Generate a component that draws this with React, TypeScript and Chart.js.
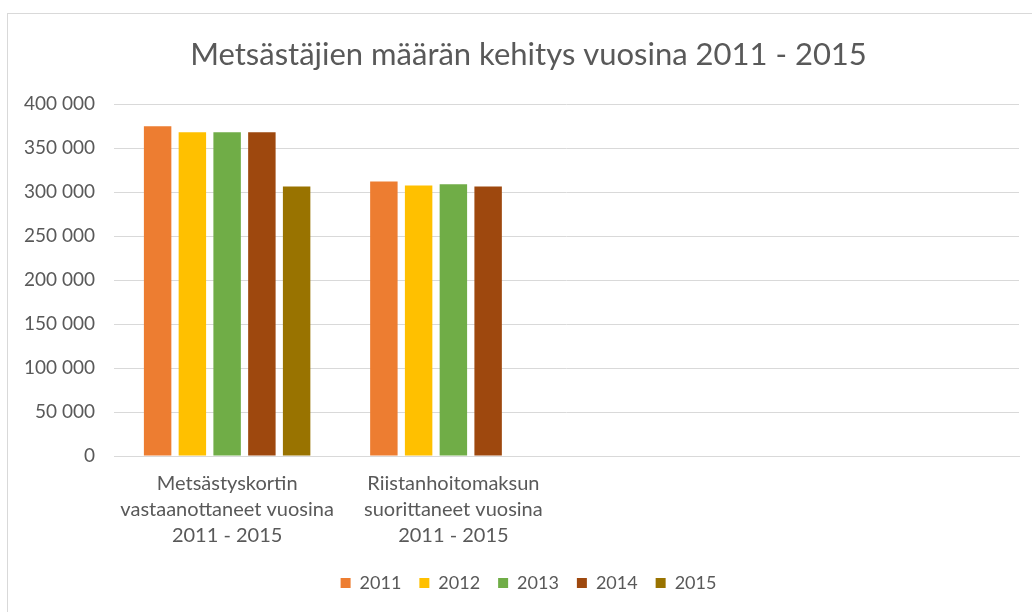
import React, { useEffect, useRef } from "react";
import { Chart, registerables } from "chart.js";

Chart.register(...registerables);

const categories: string[][] = [
  ["Metsästyskortin", "vastaanottaneet vuosina", "2011 - 2015"],
  ["Riistanhoitomaksun", "suorittaneet vuosina", "2011 - 2015"],
  [""],
  [""],
];
const seriesNames = ["2011", "2012", "2013", "2014", "2015"];
const values2011 = [375000, 312000, null, null];
const values2012 = [368000, 307500, null, null];
const values2013 = [368000, 309000, null, null];
const values2014 = [368000, 306500, null, null];
const values2015 = [306500, null, null, null];
const seriesColors = ["#ED7D31", "#FFC000", "#70AD47", "#9E480E", "#997300"];
const titleText = "Metsästäjien määrän kehitys vuosina 2011 - 2015";

const FONT = "Lato, 'Open Sans', sans-serif";
const TEXT = "#595959";

const shiftBlocks = {
  id: "shiftBlocks",
  afterLayout(chart: any) {
    const shift = 38;
    if (chart.titleBlock) chart.titleBlock.left += shift;
    if (chart.legend) chart.legend.left += shift;
  },
};

export default function App() {
  const ref = useRef<HTMLCanvasElement>(null);
  useEffect(() => {
    if (!ref.current) return;
    const all = [values2011, values2012, values2013, values2014, values2015];
    const chart = new Chart(ref.current, {
      type: "bar",
      data: {
        labels: categories,
        datasets: all.map((d, i) => ({
          label: seriesNames[i],
          data: d,
          backgroundColor: seriesColors[i],
          borderWidth: 0,
          categoryPercentage: 0.768,
          barPercentage: 0.79,
        })),
      },
      plugins: [shiftBlocks],
      options: {
        responsive: false,
        animation: false,
        devicePixelRatio: 1,
        layout: { padding: { top: 36, right: 13, bottom: 10, left: 0 } },
        plugins: {
          title: {
            display: true,
            text: titleText,
            color: TEXT,
            font: { family: FONT, size: 31, weight: "normal" as any },
            padding: { top: 0, bottom: 31 },
          },
          legend: {
            position: "bottom",
            labels: {
              color: TEXT,
              font: { family: FONT, size: 18 },
              boxWidth: 10,
              boxHeight: 10,
              padding: 18,
            },
          },
          tooltip: { enabled: false },
        },
        scales: {
          x: {
            grid: { display: false, drawTicks: false },
            border: { display: true, color: "#d9d9d9", width: 1 },
            ticks: {
              color: TEXT,
              font: { family: FONT, size: 20, lineHeight: 1.3 },
              padding: 15,
              maxRotation: 0,
              autoSkip: false,
            },
            afterFit: (s: any) => {
              s.height = 100;
            },
          },
          y: {
            min: 0,
            max: 400000,
            grid: { color: "#d9d9d9", drawTicks: false },
            border: { display: false },
            ticks: {
              stepSize: 50000,
              color: TEXT,
              font: { family: FONT, size: 19 },
              padding: 19,
              callback: (v: any) =>
                Number(v).toString().replace(/\B(?=(\d{3})+(?!\d))/g, " "),
            },
            afterFit: (s: any) => {
              s.width = 114;
            },
          },
        },
      },
    });
    return () => chart.destroy();
  }, []);
  return (
    <div
      style={{
        position: "fixed",
        left: 0,
        top: 0,
        width: 1032,
        height: 612,
        overflow: "hidden",
        background: "#fff",
      }}
    >
      <div
        style={{
          position: "absolute",
          left: 7,
          top: 13,
          width: 1100,
          height: 700,
          border: "1px solid #d9d9d9",
          boxSizing: "border-box",
        }}
      />
      <canvas
        ref={ref}
        width={1032}
        height={612}
        style={{ position: "absolute", left: 0, top: 0, width: 1032, height: 612 }}
      />
    </div>
  );
}
